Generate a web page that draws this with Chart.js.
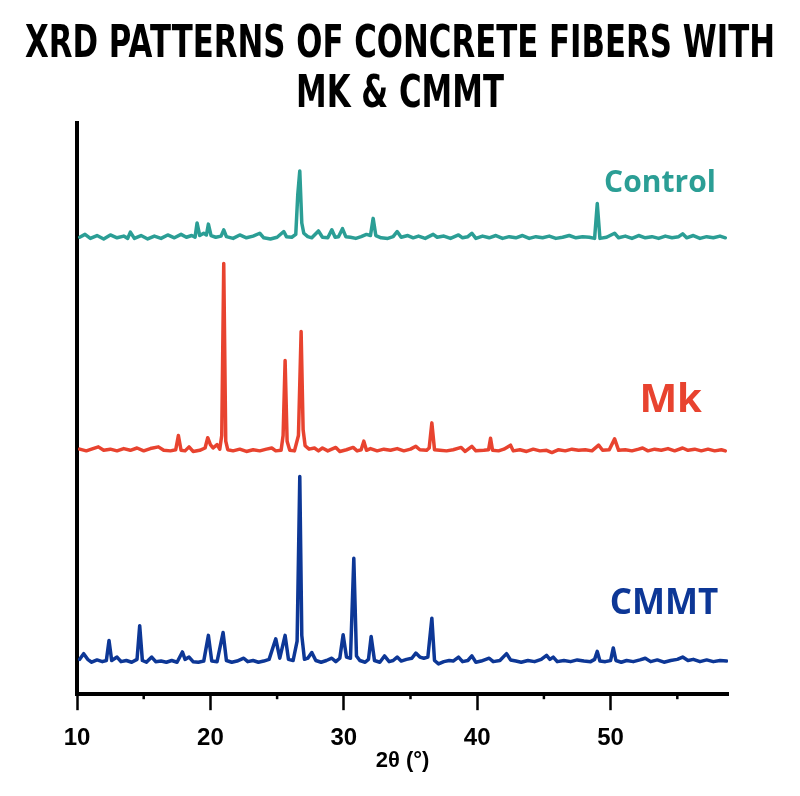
<!DOCTYPE html>
<html>
<head>
<meta charset="utf-8">
<script src="https://cdn.jsdelivr.net/npm/chart.js@4.4.0/dist/chart.umd.min.js"></script>
<style>
    body { margin: 0; background: #fff; }
    #wrap { width: 800px; height: 796px; }
</style>
</head>
<body>
<div id="wrap"><canvas id="chart"></canvas></div>
<script>
// 2θ positions (degrees) and intensities (a.u.)
const controlTheta = [10.2, 10.6, 11.0, 11.5, 12.0, 12.5, 13.0, 13.5, 13.8, 14.0, 14.3, 14.8, 15.3, 15.8, 16.3, 16.8, 17.3, 17.8, 18.2, 18.6, 18.85, 19.0, 19.2, 19.5, 19.7, 19.85, 20.05, 20.4, 20.8, 21.0, 21.2, 21.7, 22.2, 22.7, 23.2, 23.7, 24.0, 24.5, 25.0, 25.5, 25.7, 26.1, 26.4, 26.55, 26.7, 26.85, 27.0, 27.3, 27.6, 28.1, 28.4, 28.8, 29.1, 29.35, 29.6, 29.9, 30.15, 30.5, 30.9, 31.3, 31.7, 32.0, 32.2, 32.4, 32.8, 33.3, 33.7, 34.0, 34.3, 34.8, 35.2, 35.6, 36.1, 36.7, 37.0, 37.5, 38.0, 38.6, 38.9, 39.3, 39.6, 39.9, 40.4, 40.9, 41.4, 41.9, 42.4, 42.9, 43.4, 43.9, 44.4, 44.9, 45.4, 45.9, 46.4, 46.9, 47.4, 47.9, 48.4, 48.8, 49.0, 49.2, 49.7, 50.3, 50.6, 51.1, 51.6, 52.1, 52.6, 53.1, 53.6, 54.1, 54.6, 55.1, 55.4, 55.7, 56.2, 56.7, 57.2, 57.7, 58.2, 58.6];
const controlValues = [5, 10, 3, 8, 2, 9, 4, 7, 3, 14, 3, 8, 2, 7, 3, 9, 4, 10, 5, 8, 5, 30, 8, 12, 9, 28, 8, 5, 7, 18, 6, 3, 9, 4, 7, 12, 4, 2, 5, 15, 6, 5, 10, 80, 121, 30, 12, 6, 4, 16, 5, 4, 18, 5, 6, 20, 6, 5, 3, 6, 10, 8, 38, 8, 4, 3, 6, 15, 5, 8, 4, 7, 3, 10, 5, 7, 3, 9, 4, 6, 12, 3, 7, 4, 8, 3, 6, 4, 8, 3, 6, 4, 7, 3, 5, 8, 4, 6, 5, 3, 64, 3, 5, 12, 4, 7, 3, 8, 4, 6, 3, 7, 4, 6, 11, 4, 8, 3, 6, 4, 7, 4];

const mkTheta = [10.2, 10.7, 11.2, 11.6, 12.0, 12.5, 13.0, 13.5, 14.0, 14.5, 15.0, 15.5, 16.1, 16.5, 17.0, 17.4, 17.6, 17.8, 18.1, 18.4, 18.7, 19.2, 19.6, 19.8, 20.0, 20.2, 20.5, 20.7, 20.85, 21.0, 21.15, 21.3, 21.7, 22.2, 22.7, 23.2, 23.7, 24.2, 24.6, 24.9, 25.3, 25.45, 25.6, 25.75, 25.95, 26.3, 26.6, 26.8, 26.95, 27.1, 27.4, 27.8, 28.1, 28.4, 28.8, 29.1, 29.4, 29.7, 30.2, 30.7, 31.0, 31.3, 31.5, 31.7, 32.0, 32.5, 33.0, 33.5, 34.0, 34.5, 35.0, 35.4, 35.7, 36.2, 36.4, 36.6, 36.8, 37.2, 37.7, 38.2, 38.8, 39.1, 39.6, 39.9, 40.5, 40.85, 41.0, 41.15, 41.6, 42.0, 42.5, 42.7, 43.2, 43.7, 44.2, 44.7, 45.2, 45.6, 46.1, 46.6, 47.1, 47.6, 48.1, 48.6, 49.1, 49.4, 49.9, 50.3, 50.6, 51.1, 51.6, 52.1, 52.4, 52.8, 53.3, 53.8, 54.3, 54.8, 55.4, 55.8, 56.3, 56.8, 57.3, 57.8, 58.3, 58.6];
const mkValues = [6, 3, 7, 10, 4, 6, 3, 7, 4, 8, 3, 7, 10, 4, 3, 5, 30, 4, 3, 10, 2, 4, 8, 26, 14, 8, 14, 6, 30, 331, 20, 5, 3, 6, 2, 5, 3, 6, 8, 3, 4, 30, 161, 20, 4, 3, 30, 212, 40, 12, 6, 8, 3, 8, 3, 6, 9, 2, 5, 9, 3, 5, 20, 4, 7, 3, 6, 4, 7, 3, 6, 11, 5, 4, 8, 52, 5, 4, 3, 5, 9, 2, 11, 3, 4, 5, 25, 4, 3, 6, 13, 3, 5, 2, 6, 3, 4, 0, 5, 3, 6, 4, 5, 3, 13, 4, 5, 24, 4, 5, 3, 6, 8, 3, 6, 4, 7, 3, 8, 4, 6, 3, 6, 3, 5, 3];

const cmmtTheta = [10.2, 10.5, 10.8, 11.1, 11.5, 11.9, 12.2, 12.4, 12.6, 13.0, 13.3, 13.7, 14.1, 14.5, 14.7, 14.9, 15.2, 15.6, 15.9, 16.3, 16.7, 17.1, 17.5, 17.9, 18.1, 18.4, 18.7, 19.1, 19.5, 19.85, 20.1, 20.5, 20.95, 21.2, 21.6, 22.0, 22.5, 22.8, 23.2, 23.6, 24.0, 24.4, 24.9, 25.2, 25.6, 25.85, 26.2, 26.5, 26.7, 26.85, 27.05, 27.3, 27.6, 27.9, 28.3, 28.7, 29.1, 29.4, 29.7, 29.95, 30.2, 30.5, 30.75, 30.95, 31.2, 31.6, 31.85, 32.05, 32.3, 32.7, 33.05, 33.4, 33.7, 34.0, 34.3, 34.7, 35.1, 35.4, 35.7, 36.0, 36.3, 36.6, 36.8, 37.1, 37.5, 37.9, 38.2, 38.6, 38.9, 39.3, 39.6, 39.9, 40.3, 40.9, 41.2, 41.7, 42.2, 42.5, 42.9, 43.3, 43.8, 44.3, 44.8, 45.2, 45.45, 45.7, 46.0, 46.5, 47.0, 47.5, 48.0, 48.5, 48.8, 49.0, 49.2, 49.6, 50.0, 50.2, 50.4, 50.8, 51.2, 51.7, 52.2, 52.6, 53.0, 53.5, 54.0, 54.5, 55.0, 55.4, 55.8, 56.2, 56.7, 57.2, 57.7, 58.2, 58.7];
const cmmtValues = [8, 18, 8, 3, 7, 4, 6, 41, 6, 12, 4, 6, 3, 8, 67, 6, 3, 12, 4, 5, 3, 6, 3, 21, 8, 12, 4, 3, 5, 50, 5, 4, 55, 6, 3, 5, 10, 4, 6, 3, 5, 8, 44, 10, 50, 8, 6, 40, 328, 50, 8, 10, 20, 6, 3, 6, 10, 4, 10, 51, 12, 10, 185, 14, 6, 3, 8, 48, 6, 3, 14, 4, 6, 12, 5, 8, 10, 19, 12, 10, 12, 80, 6, 0, 4, 6, 5, 12, 4, 6, 14, 3, 5, 10, 4, 6, 18, 7, 5, 3, 6, 4, 8, 15, 8, 12, 4, 6, 4, 7, 5, 4, 8, 22, 5, 4, 6, 28, 6, 3, 6, 4, 7, 10, 4, 7, 3, 6, 8, 12, 6, 8, 4, 7, 4, 6, 5];

const seriesNames = ["Control", "Mk", "CMMT"];
const stackOffsets = [795, 423, 53];
const seriesColors = ["#2b9e95", "#e8432f", "#0d3796"];
const titleLines = ["XRD PATTERNS OF CONCRETE FIBERS WITH", "MK & CMMT"];

function toPoints(theta, values, offset) {
    return theta.map((t, i) => ({ x: t, y: values[i] + offset }));
}

// condensed two-line heading above the plot
const heading = {
    id: "heading",
    afterDraw(chart) {
        const ctx = chart.ctx;
        ctx.save();
        ctx.font = 'bold 44px "DejaVu Sans", sans-serif';
        ctx.fillStyle = "#000";
        ctx.textAlign = "center";
        ctx.textBaseline = "middle";
        const squeeze = 750 / ctx.measureText(titleLines[0]).width;
        ctx.translate(400, 0);
        ctx.scale(squeeze, 1);
        ctx.fillText(titleLines[0], 0, 46);
        ctx.fillText(titleLines[1], 0, 96);
        ctx.restore();
    },
};

// small tick marks between the labelled ones
const minorTicks = {
    id: "minorTicks",
    afterDraw(chart) {
        const ctx = chart.ctx;
        const xScale = chart.scales.x;
        const bottom = chart.chartArea.bottom;
        ctx.save();
        ctx.strokeStyle = "#000";
        ctx.lineWidth = 2.5;
        for (let v = 15; v < xScale.max; v += 10) {
            const px = xScale.getPixelForValue(v);
            ctx.beginPath();
            ctx.moveTo(px, bottom);
            ctx.lineTo(px, bottom + 5);
            ctx.stroke();
        }
        ctx.restore();
    },
};

// series names written next to each pattern
const seriesLabels = {
    id: "seriesLabels",
    afterDatasetsDraw(chart) {
        const ctx = chart.ctx;
        const xScale = chart.scales.x;
        const yScale = chart.scales.y;
        const spots = [
            { x: 53.7, y: 895, size: 30 },
            { x: 54.5, y: 514, size: 40 },
            { x: 54.0, y: 158, size: 35 },
        ];
        ctx.save();
        ctx.textAlign = "center";
        ctx.textBaseline = "middle";
        spots.forEach((s, i) => {
            ctx.fillStyle = seriesColors[i];
            ctx.font = `bold ${s.size}px "Open Sans", sans-serif`;
            ctx.fillText(seriesNames[i], xScale.getPixelForValue(s.x), yScale.getPixelForValue(s.y));
        });
        ctx.restore();
    },
};

const ctx = document.getElementById("chart").getContext("2d");
const chart = new Chart(ctx, {
    type: "line",
    data: {
        datasets: [
            { label: seriesNames[0], data: toPoints(controlTheta, controlValues, stackOffsets[0]), borderColor: seriesColors[0] },
            { label: seriesNames[1], data: toPoints(mkTheta, mkValues, stackOffsets[1]), borderColor: seriesColors[1] },
            { label: seriesNames[2], data: toPoints(cmmtTheta, cmmtValues, stackOffsets[2]), borderColor: seriesColors[2] },
        ],
    },
    options: {
        responsive: true,
        maintainAspectRatio: false,
        animation: false,
        layout: { padding: { left: 69, right: 72, top: 123, bottom: 22 } },
        elements: {
            point: { radius: 0 },
            line: { borderWidth: 3.5, tension: 0, borderJoinStyle: "round", borderCapStyle: "round" },
        },
        plugins: {
            legend: { display: false },
            tooltip: { enabled: false },
            title: { display: false },
        },
        scales: {
            x: {
                type: "linear",
                min: 10,
                max: 58.8,
                grid: { display: true, drawOnChartArea: false, drawTicks: true, tickLength: 16, tickWidth: 2.5, tickColor: "#000" },
                border: { display: true, color: "#000", width: 4 },
                ticks: {
                    stepSize: 10,
                    includeBounds: false,
                    padding: 15,
                    color: "#000",
                    font: { family: '"Liberation Sans", sans-serif', size: 24, weight: "bold", lineHeight: 1.1 },
                },
                title: {
                    display: true,
                    text: "2θ (°)",
                    color: "#000",
                    font: { family: '"Liberation Sans", sans-serif', size: 22, weight: "bold" },
                    padding: { top: -19, bottom: 0 },
                },
            },
            y: {
                type: "linear",
                min: 0,
                max: 1000,
                grid: { display: false },
                border: { display: true, color: "#000", width: 4 },
                ticks: { display: false },
            },
        },
    },
    plugins: [heading, minorTicks, seriesLabels],
});
</script>
</body>
</html>
